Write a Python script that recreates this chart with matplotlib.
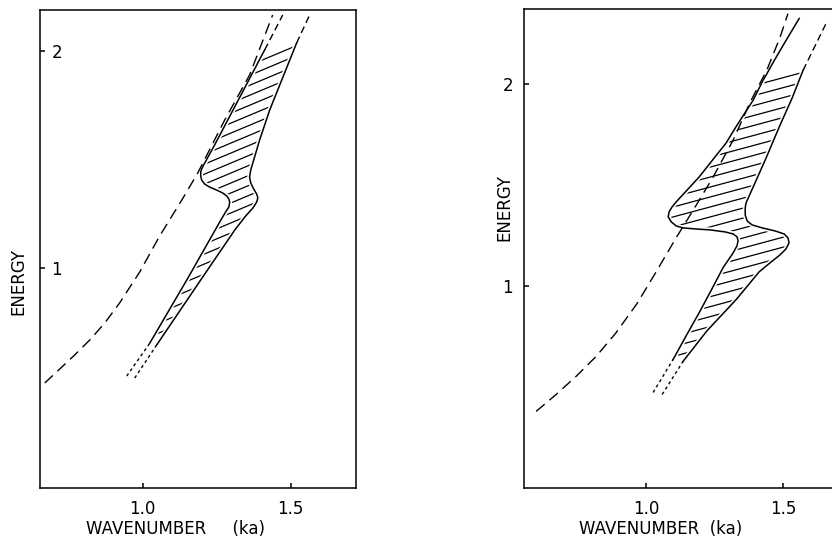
import numpy as np
import matplotlib.pyplot as plt
import matplotlib.patheffects as pe
from matplotlib.patches import Polygon

plt.rcParams['font.family'] = ['DejaVu Sans']
plt.rcParams['font.size'] = 12

# ---------- left panel ----------
l_free_k = [0.669, 0.720, 0.770, 0.821, 0.872, 0.922, 0.990, 1.057, 1.132, 1.186, 1.277, 1.361, 1.439]
l_free_e = [0.470, 0.535, 0.599, 0.668, 0.747, 0.839, 0.982, 1.147, 1.313, 1.438, 1.682, 1.889, 2.166]

l_in_k = [1.024, 1.149, 1.264, 1.280, 1.291, 1.294, 1.291, 1.284, 1.270, 1.250, 1.226, 1.209,
          1.199, 1.196, 1.196, 1.199, 1.206, 1.243, 1.412]
l_in_e = [0.654, 0.945, 1.221, 1.258, 1.281, 1.304, 1.318, 1.332, 1.346, 1.359, 1.373, 1.387,
          1.406, 1.424, 1.442, 1.456, 1.475, 1.567, 2.005]
l_in_bot_k, l_in_bot_e = [0.946, 1.024], [0.502, 0.654]
l_in_top_k, l_in_top_e = [1.412, 1.473], [2.005, 2.166]

l_out_k = [1.047, 1.196, 1.311, 1.348, 1.372, 1.385, 1.389, 1.385, 1.375, 1.365, 1.361, 1.365,
           1.372, 1.395, 1.429, 1.520]
l_out_e = [0.645, 0.945, 1.175, 1.240, 1.276, 1.304, 1.323, 1.341, 1.364, 1.392, 1.419, 1.452,
           1.484, 1.590, 1.728, 2.037]
l_out_bot_k, l_out_bot_e = [0.973, 1.047], [0.493, 0.645]
l_out_top_k, l_out_top_e = [1.520, 1.564], [2.037, 2.166]

# ---------- right panel ----------
r_free_k = [0.599, 0.672, 0.745, 0.818, 0.891, 0.967, 1.037, 1.110, 1.186, 1.245, 1.318, 1.380,
            1.442, 1.489, 1.518]
r_free_e = [0.376, 0.460, 0.550, 0.649, 0.767, 0.911, 1.069, 1.238, 1.406, 1.540, 1.723, 1.911,
            2.074, 2.233, 2.351]

r_in_k = [1.099, 1.146, 1.194, 1.237, 1.281, 1.318, 1.332, 1.336, 1.332, 1.318, 1.289, 1.234,
          1.179, 1.135, 1.110, 1.092, 1.081, 1.084, 1.095, 1.110, 1.150, 1.194, 1.234, 1.292,
          1.332, 1.391, 1.427, 1.438, 1.464, 1.511, 1.559]
r_in_e = [0.634, 0.750, 0.866, 0.975, 1.089, 1.163, 1.198, 1.223, 1.243, 1.257, 1.267, 1.277,
          1.282, 1.287, 1.297, 1.317, 1.342, 1.366, 1.391, 1.416, 1.475, 1.540, 1.609, 1.708,
          1.797, 1.921, 2.020, 2.045, 2.109, 2.218, 2.327]
r_in_bot_k, r_in_bot_e = [1.026, 1.099], [0.470, 0.634]

r_out_k = [1.135, 1.223, 1.329, 1.413, 1.453, 1.489, 1.511, 1.522, 1.518, 1.504, 1.471, 1.424,
           1.387, 1.369, 1.362, 1.362, 1.365, 1.391, 1.435, 1.489, 1.533, 1.573]
r_out_e = [0.624, 0.777, 0.931, 1.069, 1.114, 1.153, 1.183, 1.213, 1.238, 1.257, 1.272, 1.287,
           1.302, 1.322, 1.351, 1.386, 1.411, 1.490, 1.624, 1.797, 1.931, 2.069]
r_out_bot_k, r_out_bot_e = [1.059, 1.135], [0.460, 0.624]
r_out_top_k, r_out_top_e = [1.573, 1.657], [2.069, 2.302]
r_hatch_top = 2.046

xticks = [1.0, 1.5]
xticklabels = ['1.0', '1.5']
yticks = [1, 2]
yticklabels = ['1', '2']

LONG = (0, (8, 4.5))
MED = (0, (5, 3))
DOT = (0, (2.2, 2.2))
halo = [pe.Stroke(linewidth=3.5, foreground='white'), pe.Normal()]


def hatch(ax, pk, pe_, slope, step):
    poly = Polygon(np.column_stack([pk, pe_]), closed=True, fill=False, edgecolor='none')
    ax.add_patch(poly)
    k0, k1 = min(pk), max(pk)
    start = min(pe_) - slope * (k1 - k0) - step
    for e0 in np.arange(start, max(pe_) + step, step):
        ln, = ax.plot([k0, k1], [e0, e0 + slope * (k1 - k0)], color='k', lw=0.9, zorder=1)
        ln.set_clip_path(poly)


def style(ax):
    for s in ax.spines.values():
        s.set_linewidth(1.1)
    ax.set_xticks(xticks, xticklabels)
    ax.set_yticks(yticks, yticklabels)
    ax.tick_params(direction='in', length=3.8, width=1.1, labelsize=12)
    ax.tick_params(axis='x', pad=8.5)


fig = plt.figure(figsize=(8.32, 5.39), dpi=100)

# left
ax1 = fig.add_axes([40 / 832, 1 - 488 / 539, 316 / 832, 478 / 539])
ax1.set_xlim(0.653, 1.7206)
ax1.set_ylim(-0.0138, 2.189)
hatch(ax1, l_in_k + l_out_k[::-1], l_in_e + l_out_e[::-1], 0.573, 0.046)
ax1.plot(l_in_k, l_in_e, color='k', lw=1.1, zorder=2, path_effects=halo)
ax1.plot(l_out_k, l_out_e, color='k', lw=1.1, zorder=2, path_effects=halo)
ax1.plot(l_in_bot_k, l_in_bot_e, color='k', lw=1.0, ls=DOT)
ax1.plot(l_out_bot_k, l_out_bot_e, color='k', lw=1.0, ls=DOT)
ax1.plot(l_in_top_k, l_in_top_e, color='k', lw=1.0, ls=MED)
ax1.plot(l_out_top_k, l_out_top_e, color='k', lw=1.0, ls=MED)
ax1.plot(l_free_k, l_free_e, color='k', lw=1.0, ls=LONG, zorder=3)
style(ax1)
ax1.tick_params(axis='y', pad=-15.8)
ax1.set_xlabel('WAVENUMBER     (ka)', va='bottom')
ax1.xaxis.set_label_coords(0.43, -0.1046)
ax1.set_ylabel('ENERGY')
ax1.yaxis.set_label_coords(-0.041, 0.433)

# right
ax2 = fig.add_axes([524 / 832, 1 - 488 / 539, 319 / 832, 479 / 539])
ax2.set_xlim(0.5547, 1.7189)
ax2.set_ylim(-0.0045, 2.374)
top_in = [i for i, e in enumerate(r_in_e) if e <= r_hatch_top]
hatch(ax2, [r_in_k[i] for i in top_in] + r_out_k[::-1],
      [r_in_e[i] for i in top_in] + r_out_e[::-1], 0.366, 0.0495)
ax2.plot(r_in_k, r_in_e, color='k', lw=1.1, zorder=2, path_effects=halo)
ax2.plot(r_out_k, r_out_e, color='k', lw=1.1, zorder=2, path_effects=halo)
ax2.plot(r_in_bot_k, r_in_bot_e, color='k', lw=1.0, ls=DOT)
ax2.plot(r_out_bot_k, r_out_bot_e, color='k', lw=1.0, ls=DOT)
ax2.plot(r_out_top_k, r_out_top_e, color='k', lw=1.0, ls=MED)
ax2.plot(r_free_k, r_free_e, color='k', lw=1.0, ls=LONG, zorder=3)
style(ax2)
ax2.tick_params(axis='y', pad=8)
ax2.set_xlabel('WAVENUMBER  (ka)', va='bottom')
ax2.xaxis.set_label_coords(0.429, -0.1044)
ax2.set_ylabel('ENERGY')
ax2.yaxis.set_label_coords(-0.034, 0.586)

fig.savefig('out.png', dpi=100)
